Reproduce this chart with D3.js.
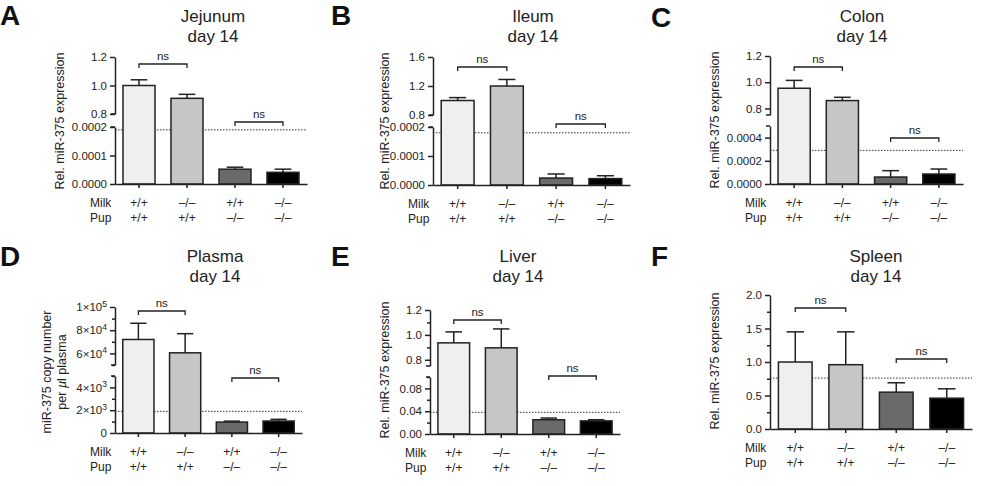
<!DOCTYPE html>
<html><head><meta charset="utf-8">
<script src="https://cdn.jsdelivr.net/npm/d3@7"></script>
<style>
html,body{margin:0;padding:0;background:#fff;}
svg{display:block;font-family:"Liberation Sans",Arial,Helvetica,sans-serif;}
</style></head>
<body>
<script>
// ---------- DATA ----------
const categories = ["g1", "g2", "g3", "g4"];
const milkGenotype = ["+/+", "\u2013/\u2013", "+/+", "\u2013/\u2013"];
const pupGenotype  = ["+/+", "+/+", "\u2013/\u2013", "\u2013/\u2013"];
const panelLetters = ["A", "B", "C", "D", "E", "F"];
const tissues = ["Jejunum", "Ileum", "Colon", "Plasma", "Liver", "Spleen"];
const subtitle = "day 14";
const sigLabel = "ns";

const jejunumMean = [1.0, 0.91, 0.000052, 0.000041];
const jejunumSEM  = [0.04, 0.028, 0.000007, 0.000011];
const ileumMean   = [1.0, 1.20, 0.000024, 0.000022];
const ileumSEM    = [0.04, 0.09, 0.000014, 0.000010];
const colonMean   = [0.954, 0.86, 0.00006, 0.000086];
const colonSEM    = [0.06, 0.025, 0.000055, 0.000043];
const plasmaMean  = [72000, 60500, 960, 1050];
const plasmaSEM   = [14000, 16500, 80, 150];
const liverMean   = [0.936, 0.896, 0.025, 0.023];
const liverSEM    = [0.088, 0.152, 0.003, 0.002];
const spleenMean  = [1.0, 0.96, 0.55, 0.46];
const spleenSEM   = [0.45, 0.49, 0.14, 0.14];

const detectionLimit = [0.00019, 0.00018, 0.00029, 1900, 0.038, 0.76];

// axis domains and tick labels (lower / upper segment of broken axes)
const jejunumLowDomain = [0, 0.0002], jejunumHighDomain = [0.8, 1.2];
const jejunumLowTicks = [0, 0.0001, 0.0002], jejunumHighTicks = [0.8, 1.0, 1.2];
const ileumLowDomain = [0, 0.0002], ileumHighDomain = [0.8, 1.6];
const ileumLowTicks = [0, 0.0001, 0.0002], ileumHighTicks = [0.8, 1.2, 1.6];
const colonLowDomain = [0, 0.0005], colonHighDomain = [0.75, 1.2];
const colonLowTicks = [0, 0.0002, 0.0004], colonHighTicks = [0.8, 1.0, 1.2];
const plasmaLowDomain = [0, 5000], plasmaHighDomain = [50000, 100000];
const plasmaLowTicks = [0, 2000, 4000], plasmaHighTicks = [60000, 80000, 100000];
const plasmaLowMinor = [1000, 3000, 5000], plasmaHighMinor = [50000, 70000, 90000];
const liverLowDomain = [0, 0.1], liverHighDomain = [0.75, 1.2];
const liverLowTicks = [0, 0.04, 0.08], liverHighTicks = [0.8, 1.0, 1.2];
const liverLowMinor = [0.02, 0.06, 0.1], liverHighMinor = [0.9, 1.1];
const spleenDomain = [0, 2.0];
const spleenTicks = [0, 0.5, 1.0, 1.5, 2.0];
const spleenMinor = [0.25, 0.75, 1.25, 1.75];

const yLabelRel = ["Rel. miR-375 expression"];
const yLabelPlasma = ["miR-375 copy number", "per \u00b5l plasma"];
const sigPairs = [[0, 1], [2, 3]];

// ---------- DRAW ----------
const svg = d3.select("body").append("svg").attr("width", 1000).attr("height", 486);
svg.append("rect").attr("width", 1000).attr("height", 486).attr("fill", "#fff");

const barFill = ["#efefef", "#c6c6c6", "#6a6a6a", "#000000"];
const ink = "#222";

function fmtFixed(n) { return d => d3.format("." + n + "f")(d); }

function sciLabel(sel) {
  sel.each(function(d) {
    const t = d3.select(this);
    t.text(null);
    if (d === 0) { t.text("0"); return; }
    const e = Math.floor(Math.log10(d) + 1e-9);
    const m = Math.round(d / Math.pow(10, e));
    t.append("tspan").text(m + "\u00d710");
    t.append("tspan").attr("dy", "-0.5em").attr("font-size", "8.5px").text(e);
  });
}

function panel(c) {
  const g = svg.append("g");
  const x = d3.scaleBand().domain(categories).range([c.axisX, c.xEnd])
    .paddingInner(0.333).paddingOuter(0.1667);
  const yLow = d3.scaleLinear().domain(c.lowDomain).range([c.y0, c.lowTop]);
  const yHigh = c.highDomain ? d3.scaleLinear().domain(c.highDomain).range([c.highBottom, c.highTop]) : null;
  const y = v => (yHigh && v > c.lowDomain[1]) ? yHigh(v) : yLow(v);

  // panel letter
  g.append("text").attr("x", c.letterX).attr("y", c.letterY)
    .attr("font-size", "28px").attr("font-weight", "bold").attr("fill", "#111").text(c.letter);
  // title
  g.append("text").attr("x", c.titleX).attr("y", c.titleY).attr("text-anchor", "middle")
    .attr("font-size", "17px").attr("fill", ink).text(c.title);
  g.append("text").attr("x", c.titleX).attr("y", c.titleY + 20).attr("text-anchor", "middle")
    .attr("font-size", "17px").attr("fill", ink).text(subtitle);

  // detection limit (dotted), behind bars
  g.append("line").attr("x1", c.axisX).attr("x2", c.xEnd)
    .attr("y1", y(c.limit)).attr("y2", y(c.limit))
    .attr("stroke", "#333").attr("stroke-width", 1).attr("stroke-dasharray", "1.5,1.5");

  // bars
  g.selectAll("rect.bar").data(categories).join("rect").attr("class", "bar")
    .attr("x", d => x(d)).attr("width", x.bandwidth())
    .attr("y", (d, i) => y(c.mean[i])).attr("height", (d, i) => c.y0 - y(c.mean[i]))
    .attr("fill", (d, i) => barFill[i]).attr("stroke", ink).attr("stroke-width", 1.5);

  // error bars (upper only)
  const cap = x.bandwidth() * 0.26;
  categories.forEach((d, i) => {
    const cx = x(d) + x.bandwidth() / 2;
    const top = y(c.mean[i] + c.sem[i]);
    g.append("line").attr("x1", cx).attr("x2", cx).attr("y1", y(c.mean[i])).attr("y2", top)
      .attr("stroke", ink).attr("stroke-width", 1.5);
    g.append("line").attr("x1", cx - cap).attr("x2", cx + cap).attr("y1", top).attr("y2", top)
      .attr("stroke", ink).attr("stroke-width", 1.5);
  });

  // y axis segments
  function styleAxis(a) {
    a.selectAll("path,line").attr("stroke", ink).attr("stroke-width", 1.5);
    a.selectAll("text").attr("font-size", "11.5px").attr("fill", ink)
      .attr("font-family", '"Liberation Sans",Arial,sans-serif');
  }
  function segment(scale, ticks, minor, fmt) {
    const ax = d3.axisLeft(scale).tickValues(ticks).tickSize(5).tickSizeOuter(0).tickPadding(3);
    if (fmt !== "sci") ax.tickFormat(fmt);
    const a = g.append("g").attr("transform", `translate(${c.axisX},0)`).call(ax);
    styleAxis(a);
    if (fmt === "sci") a.selectAll(".tick text").call(sciLabel);
    if (minor) {
      const m = g.append("g").attr("transform", `translate(${c.axisX},0)`)
        .call(d3.axisLeft(scale).tickValues(minor).tickSize(3).tickSizeOuter(0).tickFormat(""));
      m.select(".domain").remove();
      styleAxis(m);
    }
  }
  segment(yLow, c.lowTicks, c.lowMinor, c.lowFmt);
  if (yHigh) {
    segment(yHigh, c.highTicks, c.highMinor, c.highFmt);
    // break caps
    [c.highBottom, c.lowTop].forEach(yy => {
      g.append("line").attr("x1", c.axisX - 4).attr("x2", c.axisX).attr("y1", yy).attr("y2", yy)
        .attr("stroke", ink).attr("stroke-width", 1.5);
    });
  }

  // x axis
  const xa = g.append("g").attr("transform", `translate(0,${c.y0})`)
    .call(d3.axisBottom(x).tickSize(4).tickSizeOuter(0).tickFormat(""));
  styleAxis(xa);

  // y label
  const yl = g.append("text").attr("transform", `translate(${c.ylabX},${c.ylabY}) rotate(-90)`)
    .attr("text-anchor", "middle").attr("font-size", "12.5px").attr("fill", ink);
  c.ylabel.forEach((s, k) => {
    const tsp = yl.append("tspan").attr("x", 0).attr("dy", k === 0 ? (c.ylabel.length > 1 ? "-0.25em" : "0.35em") : "1.2em");
    if (s.indexOf("\u00b5") >= 0) {
      const parts = s.split("\u00b5");
      tsp.text(parts[0]);
      yl.append("tspan").attr("font-style", "italic").text("\u00b5");
      yl.append("tspan").text(parts[1]);
    } else tsp.text(s);
  });

  // significance brackets
  sigPairs.forEach((p, k) => {
    const x1 = x(categories[p[0]]) + x.bandwidth() / 2;
    const x2 = x(categories[p[1]]) + x.bandwidth() / 2;
    const by = c.brackets[k];
    g.append("path").attr("d", `M${x1},${by + 4}V${by}H${x2}V${by + 4}`)
      .attr("fill", "none").attr("stroke", ink).attr("stroke-width", 1.3);
    g.append("text").attr("x", (x1 + x2) / 2).attr("y", by - 4).attr("text-anchor", "middle")
      .attr("font-size", "11.5px").attr("fill", ink).text(sigLabel);
  });

  // genotype rows
  const rows = [["Milk", milkGenotype], ["Pup", pupGenotype]];
  rows.forEach((r, k) => {
    const yy = c.y0 + 18.5 + k * 15 + 4.2;
    g.append("text").attr("x", c.axisX - 25).attr("y", yy).attr("font-size", "12px").attr("fill", ink).text(r[0]);
    categories.forEach((d, i) => {
      g.append("text").attr("x", x(d) + x.bandwidth() / 2).attr("y", yy).attr("text-anchor", "middle")
        .attr("font-size", "12px").attr("fill", ink).text(r[1][i]);
    });
  });
}

panel({letter: panelLetters[0], title: tissues[0], mean: jejunumMean, sem: jejunumSEM, limit: detectionLimit[0],
  axisX: 115, xEnd: 307, y0: 184, lowTop: 127, highBottom: 114, highTop: 57,
  lowDomain: jejunumLowDomain, highDomain: jejunumHighDomain,
  lowTicks: jejunumLowTicks, highTicks: jejunumHighTicks, lowFmt: fmtFixed(4), highFmt: fmtFixed(1),
  brackets: [64, 122], ylabel: yLabelRel, ylabX: 60, ylabY: 121,
  letterX: 0, letterY: 25, titleX: 213, titleY: 22});

panel({letter: panelLetters[1], title: tissues[1], mean: ileumMean, sem: ileumSEM, limit: detectionLimit[1],
  axisX: 433, xEnd: 630, y0: 185, lowTop: 127, highBottom: 115, highTop: 57,
  lowDomain: ileumLowDomain, highDomain: ileumHighDomain,
  lowTicks: ileumLowTicks, highTicks: ileumHighTicks, lowFmt: fmtFixed(4), highFmt: fmtFixed(1),
  brackets: [67, 124], ylabel: yLabelRel, ylabX: 385, ylabY: 121,
  letterX: 331, letterY: 25, titleX: 533, titleY: 22});

panel({letter: panelLetters[2], title: tissues[2], mean: colonMean, sem: colonSEM, limit: detectionLimit[2],
  axisX: 770, xEnd: 963, y0: 184, lowTop: 126, highBottom: 115, highTop: 56,
  lowDomain: colonLowDomain, highDomain: colonHighDomain,
  lowTicks: colonLowTicks, highTicks: colonHighTicks, lowFmt: fmtFixed(4), highFmt: fmtFixed(1),
  brackets: [67, 138], ylabel: yLabelRel, ylabX: 715, ylabY: 120,
  letterX: 651, letterY: 27, titleX: 862, titleY: 22});

panel({letter: panelLetters[3], title: tissues[3], mean: plasmaMean, sem: plasmaSEM, limit: detectionLimit[3],
  axisX: 115, xEnd: 302, y0: 433, lowTop: 376, highBottom: 365, highTop: 307,
  lowDomain: plasmaLowDomain, highDomain: plasmaHighDomain,
  lowTicks: plasmaLowTicks, highTicks: plasmaHighTicks, lowMinor: plasmaLowMinor, highMinor: plasmaHighMinor,
  lowFmt: "sci", highFmt: "sci",
  brackets: [311, 378], ylabel: yLabelPlasma, ylabX: 54, ylabY: 372,
  letterX: 0, letterY: 266, titleX: 215, titleY: 262});

panel({letter: panelLetters[4], title: tissues[4], mean: liverMean, sem: liverSEM, limit: detectionLimit[4],
  axisX: 430, xEnd: 620, y0: 434, lowTop: 377, highBottom: 366, highTop: 310,
  lowDomain: liverLowDomain, highDomain: liverHighDomain,
  lowTicks: liverLowTicks, highTicks: liverHighTicks, lowMinor: liverLowMinor, highMinor: liverHighMinor,
  lowFmt: fmtFixed(2), highFmt: fmtFixed(1),
  brackets: [320, 376], ylabel: yLabelRel, ylabX: 385, ylabY: 370,
  letterX: 331, letterY: 266, titleX: 518, titleY: 262});

panel({letter: panelLetters[5], title: tissues[5], mean: spleenMean, sem: spleenSEM, limit: detectionLimit[5],
  axisX: 770, xEnd: 972, y0: 429, lowTop: 295,
  lowDomain: spleenDomain, highDomain: null,
  lowTicks: spleenTicks, lowMinor: spleenMinor, lowFmt: fmtFixed(1),
  brackets: [308, 359], ylabel: yLabelRel, ylabX: 715, ylabY: 361,
  letterX: 651, letterY: 266, titleX: 876, titleY: 262});
</script>
</body></html>
